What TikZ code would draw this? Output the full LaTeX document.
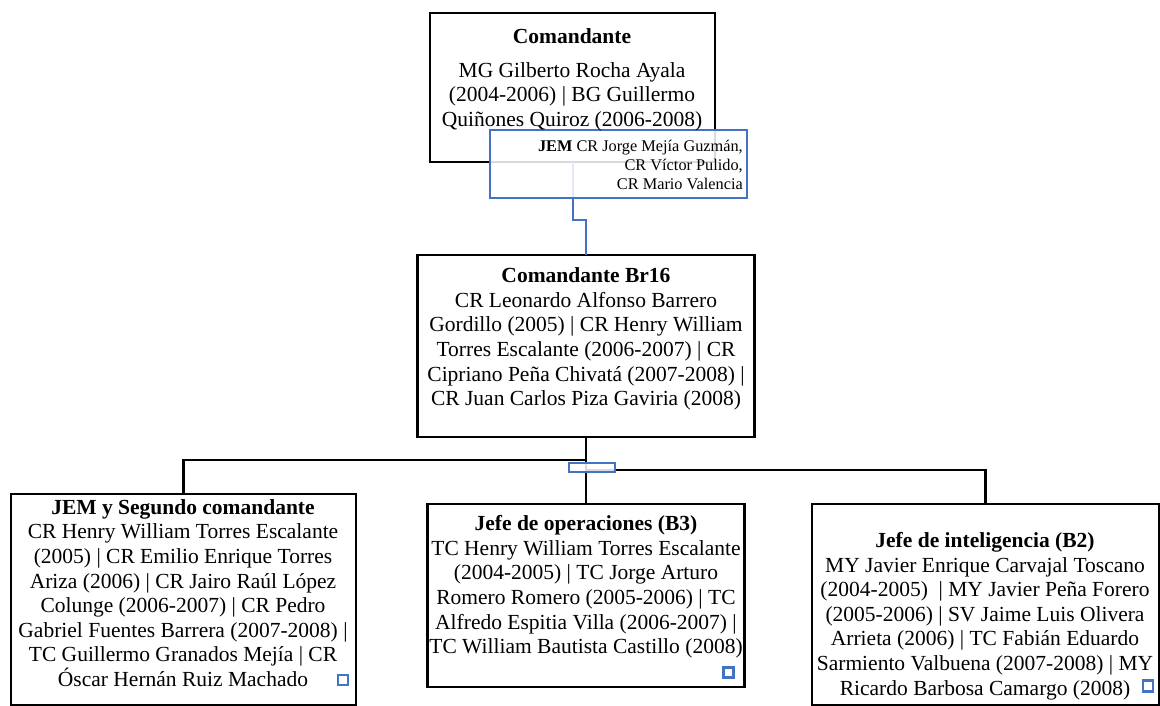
\documentclass[tikz,border=0pt]{standalone}
\usepackage{fontspec}
\setmainfont{Liberation Serif}
\usepackage{tikz}

\definecolor{smartblue}{HTML}{4472C4}

\begin{document}
\begin{tikzpicture}[x=1pt,y=-1pt,
  box/.style={draw=black, line width=2.4pt, fill=white, inner sep=0pt, outer sep=0pt},
  jembox/.style={draw=smartblue, line width=2pt, fill=white, fill opacity=.85, inner sep=0pt, outer sep=0pt},
  txt/.style={align=center, inner sep=0pt, font=\fontsize{21.5}{24.6}\selectfont},
  conn/.style={line width=2.4pt},
  bconn/.style={draw=smartblue, line width=2pt},
  bluesq/.style={draw=smartblue, line width=2.4pt, fill=white, inner sep=0pt,
    minimum width=10, minimum height=10}]

\useasboundingbox (0,0) rectangle (1160,706);

\node[box, minimum width=285, minimum height=149] (cmd) at (572.5,87.5) {};
\node[box, minimum width=337, minimum height=182] (br16) at (586,346) {};
\node[box, minimum width=345, minimum height=211] (jem2) at (183.5,599.5) {};
\node[box, minimum width=317, minimum height=183] (ops) at (586,595.5) {};
\node[box, minimum width=347, minimum height=201] (intel) at (985.5,604.5) {};

\draw[bconn]
  (cmd.south) -- ++(0,58) -| (br16.north);

\node[jembox, minimum width=257, minimum height=68] (jem) at (618.5,164) {};

\draw[conn]
  (br16.south) -- ++(0,23) -| (jem2.north);
\draw[conn]
  (br16.south) -- ++(0,33) -| (intel.north);
\draw[conn]
  (br16.south) -- (ops.north);
\node[jembox, minimum width=46, minimum height=9] (hub) at (592,467.5) {};

\node[txt] (cmdtxt) at (572,80)
  {\textbf{Comandante}\\[9pt]
   MG Gilberto Rocha Ayala\\
   (2004-2006) | BG Guillermo\\
   Quiñones Quiroz (2006-2008)};

\node[txt, align=right, anchor=east, font=\fontsize{16.3}{18.6}\selectfont] (jemtxt) at (743,165)
  {\textbf{JEM} CR Jorge Mejía Guzmán,\\
   CR Víctor Pulido,\\
   CR Mario Valencia};

\node[txt] (br16txt) at (586,339)
  {\textbf{Comandante Br16}\\
   CR Leonardo Alfonso Barrero\\
   Gordillo (2005) | CR Henry William\\
   Torres Escalante (2006-2007) | CR\\
   Cipriano Peña Chivatá (2007-2008) |\\
   CR Juan Carlos Piza Gaviria (2008)};

\node[txt] (jem2txt) at (183,593)
  {\textbf{JEM y Segundo comandante}\\
   CR Henry William Torres Escalante\\
   (2005) | CR Emilio Enrique Torres\\
   Ariza (2006) | CR Jairo Raúl López\\
   Colunge (2006-2007) | CR Pedro\\
   Gabriel Fuentes Barrera (2007-2008) |\\
   TC Guillermo Granados Mejía | CR\\
   Óscar Hernán Ruiz Machado};

\node[txt] (opstxt) at (586,587)
  {\textbf{Jefe de operaciones (B3)}\\
   TC Henry William Torres Escalante\\
   (2004-2005) | TC Jorge Arturo\\
   Romero Romero (2005-2006) | TC\\
   Alfredo Espitia Villa (2006-2007) |\\
   TC William Bautista Castillo (2008)};

\node[txt] (inteltxt) at (985,616)
  {\textbf{Jefe de inteligencia (B2)}\\
   MY Javier Enrique Carvajal Toscano\\
   (2004-2005) \ | MY Javier Peña Forero\\
   (2005-2006) | SV Jaime Luis Olivera\\
   Arrieta (2006) | TC Fabián Eduardo\\
   Sarmiento Valbuena (2007-2008) | MY\\
   Ricardo Barbosa Camargo (2008)};

\node[bluesq] (sq1) at (343,680) {};
\node[bluesq] (sq2) at (728.5,672.5) {};
\node[bluesq, minimum height=11] (sq3) at (1148,686) {};

\end{tikzpicture}
\end{document}
